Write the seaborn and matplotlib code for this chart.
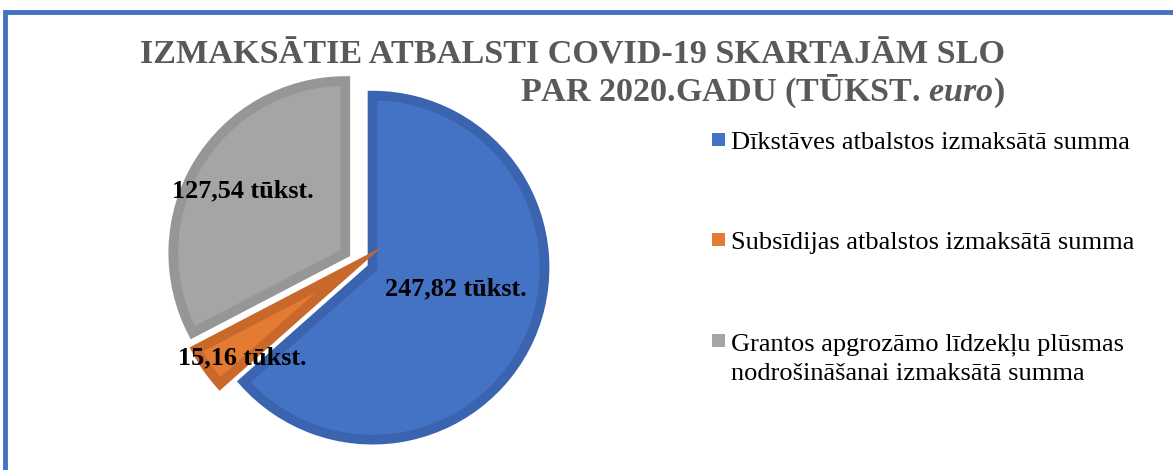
import matplotlib.pyplot as plt
import matplotlib.patches as mpatches
import numpy as np
import seaborn as sns

# dati (tūkst. euro)
labels = ["Dīkstāves atbalstos izmaksātā summa",
          "Subsīdijas atbalstos izmaksātā summa",
          "Grantos apgrozāmo līdzekļu plūsmas\nnodrošināšanai izmaksātā summa"]
values = [247.82, 15.16, 127.54]
fills = ["#4472C4", "#E57A32", "#A5A5A5"]
edges = ["#3B64B0", "#C8682A", "#969696"]
explode = [0.08, 0.08, 0.1]

title_1 = "IZMAKSĀTIE ATBALSTI COVID-19 SKARTAJĀM SLO"
title_2 = r"PAR 2020.GADU (TŪKST. $\mathit{euro}$)"

sns.set_theme(style="white")
plt.rcParams['font.family'] = ['Liberation Serif', 'DejaVu Serif']
plt.rcParams['mathtext.fontset'] = 'custom'
plt.rcParams['mathtext.it'] = 'Liberation Serif:italic:bold'
plt.rcParams['mathtext.rm'] = 'Liberation Serif:bold'

W, H = 1173, 470
fig = plt.figure(figsize=(W / 100, H / 100), dpi=100)
fig.patch.set_facecolor("white")

# zilais rāmis
fig.add_artist(mpatches.Rectangle((5 / W, -0.5), 2, 1.5 - 12 / H, transform=fig.transFigure,
                                  fill=False, edgecolor="#4472C4", lw=3.5))

# pīrāgs
px = 172.0
half = 225.0
cx, cy = 360, H - 262
ax = fig.add_axes([(cx - half) / W, (cy - half) / H, 2 * half / W, 2 * half / H])

wedges, _ = ax.pie(values, colors=fills, explode=explode, startangle=90, counterclock=False,
                   radius=1.0, wedgeprops=dict(linewidth=7, joinstyle="miter"))
for w, ec in zip(wedges, edges):
    w.set_edgecolor(ec)
# pie() pārraksta robežas, tāpēc tikai pēc tam
ax.set_xlim(-half / px, half / px)
ax.set_ylim(-half / px, half / px)
ax.axis("off")

lab_dist = [0.5, 0.8, 0.7]
lab_shift = [10, 5, 0]
for w, v, d, s in zip(wedges, values, lab_dist, lab_shift):
    ang = np.deg2rad((w.theta1 + w.theta2) / 2 + s)
    x0, y0 = w.center
    ax.text(x0 + d * np.cos(ang), y0 + d * np.sin(ang),
            f"{v:.2f}".replace(".", ",") + " tūkst.",
            ha="center", va="center", fontsize=18.8, fontweight="bold", color="black")

# virsraksts
fig.text(1005 / W, 1 - 63 / H, title_1, ha="right", va="baseline",
         fontsize=24.6, fontweight="bold", color="#595959")
fig.text(1005 / W, 1 - 101 / H, title_2, ha="right", va="baseline",
         fontsize=24.6, fontweight="bold", color="#595959")

# leģenda
row_base = [149, 249, 350]
for lab, col, yb in zip(labels, fills, row_base):
    fig.add_artist(mpatches.Rectangle((712 / W, 1 - (yb - 3) / H), 13 / W, 13 / H,
                                      transform=fig.transFigure, color=col, lw=0))
    for k, line in enumerate(lab.split("\n")):
        fig.text(731 / W, 1 - (yb + 30 * k) / H, line, ha="left", va="baseline",
                 fontsize=19, color="black")

fig.savefig("out.png", dpi=100)
